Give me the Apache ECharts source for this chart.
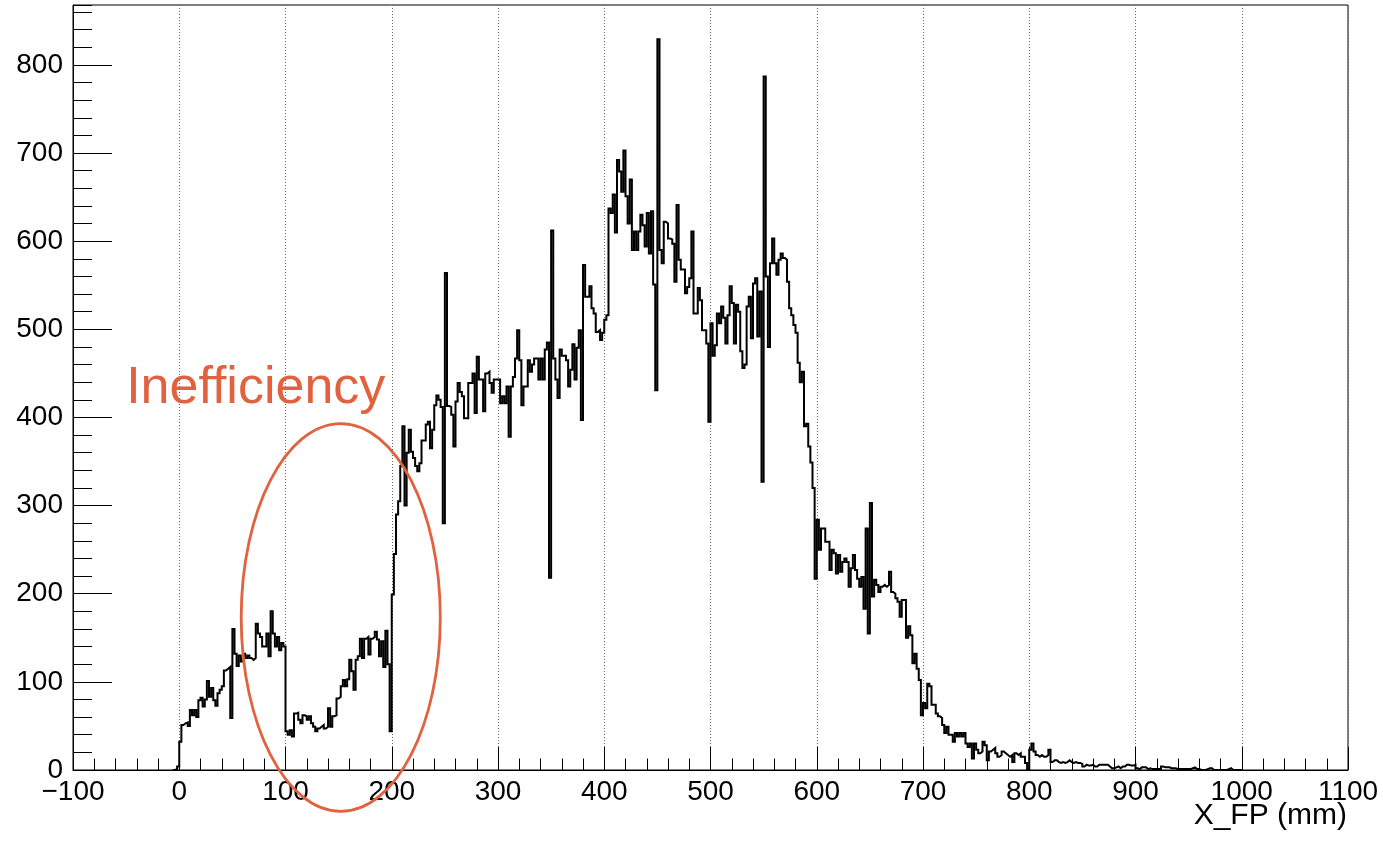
<!DOCTYPE html>
<html>
<head>
<meta charset="utf-8">
<title>X_FP</title>
<script src="https://cdn.jsdelivr.net/npm/echarts@6/dist/echarts.min.js"></script>
<style>
  html, body { margin: 0; padding: 0; background: #fff; }
  #chart { width: 1383px; height: 842px; }
</style>
</head>
<body>
<div id="chart"></div>
<script>
// histogram binning (mm)
const binStart = -6;
const binWidth = 2;

// counts per 2 mm bin
const countsBelowZero = [0, 1, 4];
const counts0to100 = [
    32, 51, 53, 54, 50, 68, 62, 68, 60, 79,
    82, 72, 80, 101, 83, 93, 79, 73, 87, 91,
    95, 113, 115, 117, 59, 160, 132, 118, 130, 123,
    132, 127, 130, 127, 125, 127, 166, 155, 151, 140,
    140, 155, 129, 180, 155, 140, 151, 136, 144, 140
];
const counts100to200 = [
    44, 40, 45, 38, 64, 65, 57, 53, 62, 61,
    57, 61, 53, 49, 44, 47, 49, 51, 47, 49,
    70, 49, 61, 62, 81, 83, 95, 102, 95, 103,
    125, 112, 91, 125, 129, 149, 127, 149, 151, 131,
    149, 151, 157, 148, 129, 146, 117, 158, 120, 44
];
const counts200to300 = [
    199, 245, 290, 305, 345, 390, 300, 360, 386, 361,
    354, 345, 339, 348, 374, 374, 392, 395, 365, 386,
    414, 425, 420, 412, 280, 564, 413, 412, 403, 367,
    418, 439, 429, 424, 399, 399, 439, 439, 450, 405,
    469, 443, 443, 407, 450, 452, 439, 428, 443, 443
];
const counts300to400 = [
    443, 416, 424, 416, 435, 378, 435, 446, 467, 499,
    465, 414, 435, 435, 465, 452, 460, 467, 467, 443,
    467, 443, 477, 485, 218, 612, 467, 443, 422, 477,
    470, 470, 465, 435, 454, 483, 443, 479, 499, 397,
    573, 537, 537, 549, 524, 518, 497, 499, 488, 496
];
const counts400to500 = [
    511, 516, 637, 632, 653, 610, 692, 679, 656, 703,
    651, 620, 670, 590, 611, 590, 611, 630, 618, 594,
    632, 586, 634, 551, 431, 829, 590, 575, 622, 620,
    603, 602, 597, 554, 641, 579, 568, 568, 541, 548,
    558, 611, 518, 518, 547, 533, 499, 499, 484, 395
];
const counts500to600 = [
    507, 470, 482, 518, 507, 526, 513, 484, 516, 549,
    530, 484, 528, 520, 475, 456, 460, 526, 537, 490,
    552, 558, 492, 543, 327, 787, 560, 480, 575, 603,
    575, 562, 579, 586, 581, 579, 554, 524, 516, 505,
    496, 462, 440, 452, 390, 393, 367, 349, 320, 217
];
const counts600to700 = [
    284, 250, 274, 274, 259, 259, 227, 250, 246, 223,
    244, 225, 236, 240, 236, 208, 229, 244, 227, 217,
    208, 219, 183, 274, 155, 303, 197, 216, 210, 202,
    208, 210, 208, 210, 225, 202, 200, 195, 191, 174,
    193, 193, 150, 163, 153, 121, 132, 115, 102, 62
];
const counts700to800 = [
    76, 70, 98, 95, 74, 74, 64, 61, 59, 51,
    42, 49, 40, 40, 32, 42, 38, 42, 38, 42,
    30, 26, 30, 13, 30, 23, 19, 21, 32, 28,
    11, 21, 23, 25, 19, 15, 17, 21, 19, 17,
    15, 17, 9, 19, 17, 19, 15, 15, 8, 0
];
const counts800to900 = [
    23, 30, 21, 17, 15, 17, 15, 15, 17, 23,
    9, 11, 11, 9, 8, 9, 8, 9, 11, 9,
    8, 9, 8, 8, 7, 4, 6, 5, 5, 6,
    4, 4, 6, 6, 6, 6, 6, 4, 2, 2,
    3, 4, 2, 4, 4, 6, 6, 5, 5, 6
];
const counts900to1000 = [
    2, 1, 3, 3, 3, 1, 2, 1, 1, 1,
    1, 1, 4, 3, 3, 3, 2, 2, 2, 1,
    1, 1, 1, 1, 1, 1, 2, 3, 1, 1,
    0, 0, 0, 1, 2, 2, 0, 0, 0, 0,
    0, 0, 0, 1, 2, 0, 0, 0, 0, 0
];

// axes
const xRange = [-100, 1100];
const yRange = [0, 868];
const xTitle = 'X_FP (mm)';

// annotation, in data units
const noteText = 'Inefficiency';
const notePos = [-50, 433];
const ellipseCenter = [152, 173];
const ellipseRadii = [93.7, 220];

const FONT = '"Liberation Sans", Arial, Helvetica, sans-serif';
const NOTE_COLOR = '#e2613f';

const counts = [].concat(
    countsBelowZero, counts0to100, counts100to200, counts200to300,
    counts300to400, counts400to500, counts500to600, counts600to700,
    counts700to800, counts800to900, counts900to1000
);

// left edge of each bin, plus the closing right edge
const histPoints = counts.map((c, i) => [binStart + i * binWidth, c]);
histPoints.push([binStart + counts.length * binWidth, 0]);

const chart = echarts.init(document.getElementById('chart'), null, { renderer: 'canvas' });

const tickLabelStyle = {
    color: '#000',
    fontFamily: FONT,
    fontSize: 28
};

chart.setOption({
    animation: false,
    backgroundColor: '#fff',
    grid: {
        left: 73,
        right: 35,
        top: 5,
        bottom: 72,
        containLabel: false,
        outerBoundsMode: 'none',
        show: true,
        borderColor: '#000',
        borderWidth: 1,
        backgroundColor: 'transparent'
    },
    xAxis: {
        type: 'value',
        min: xRange[0],
        max: xRange[1],
        interval: 100,
        axisLine: { show: true, onZero: false, lineStyle: { color: '#000', width: 1 } },
        axisTick: { show: true, inside: true, length: 23, lineStyle: { color: '#000', width: 1 } },
        minorTick: { show: true, splitNumber: 5, length: 11.5, lineStyle: { color: '#000', width: 1 } },
        axisLabel: {
            ...tickLabelStyle,
            margin: 8,
            formatter: v => String(v).replace('-', '\u2212')
        },
        splitLine: { show: true, lineStyle: { color: '#666', width: 1, type: [1, 2] } }
    },
    yAxis: [
        {
            // minor ticks every 20
            type: 'value',
            min: yRange[0],
            max: yRange[1],
            interval: 20,
            axisLine: { show: true, onZero: false, lineStyle: { color: '#000', width: 1 } },
            axisTick: { show: true, inside: true, length: 19, lineStyle: { color: '#000', width: 1 } },
            axisLabel: { show: false },
            splitLine: { show: false }
        },
        {
            // major ticks + labels every 100
            type: 'value',
            position: 'left',
            offset: 0,
            min: yRange[0],
            max: yRange[1],
            interval: 100,
            axisLine: { show: false, onZero: false },
            axisTick: { show: true, inside: true, length: 39, lineStyle: { color: '#000', width: 1 } },
            axisLabel: { ...tickLabelStyle, margin: 10, showMaxLabel: false },
            splitLine: { show: false }
        }
    ],
    series: [
        {
            type: 'line',
            name: 'X_FP',
            yAxisIndex: 1,
            step: 'end',
            showSymbol: false,
            symbol: 'none',
            sampling: null,
            data: histPoints,
            lineStyle: { color: '#000', width: 2, join: 'miter', cap: 'butt' },
            z: 3
        }
    ]
});

// axis title and annotation placed through the grid's own coordinate system
function placeNotes() {
    const c = chart.convertToPixel({ gridIndex: 0 }, ellipseCenter);
    const edge = chart.convertToPixel({ gridIndex: 0 },
        [ellipseCenter[0] + ellipseRadii[0], ellipseCenter[1] + ellipseRadii[1]]);
    const t = chart.convertToPixel({ gridIndex: 0 }, notePos);
    const axisEnd = chart.convertToPixel({ gridIndex: 0 }, [xRange[1], yRange[0]]);

    chart.setOption({
        graphic: [
            {
                type: 'ellipse',
                shape: { cx: c[0], cy: c[1], rx: Math.abs(edge[0] - c[0]), ry: Math.abs(c[1] - edge[1]) },
                style: { fill: 'none', stroke: NOTE_COLOR, lineWidth: 2.8 },
                z: 10
            },
            {
                type: 'text',
                x: t[0],
                y: t[1],
                style: {
                    text: noteText,
                    fill: NOTE_COLOR,
                    font: '52px ' + FONT,
                    textAlign: 'left',
                    textVerticalAlign: 'middle'
                },
                z: 10
            },
            {
                type: 'text',
                x: axisEnd[0] - 1,
                y: axisEnd[1] + 31,
                style: {
                    text: xTitle,
                    fill: '#000',
                    font: '30px ' + FONT,
                    textAlign: 'right',
                    textVerticalAlign: 'top'
                },
                z: 10
            }
        ]
    });
}

placeNotes();
</script>
</body>
</html>
